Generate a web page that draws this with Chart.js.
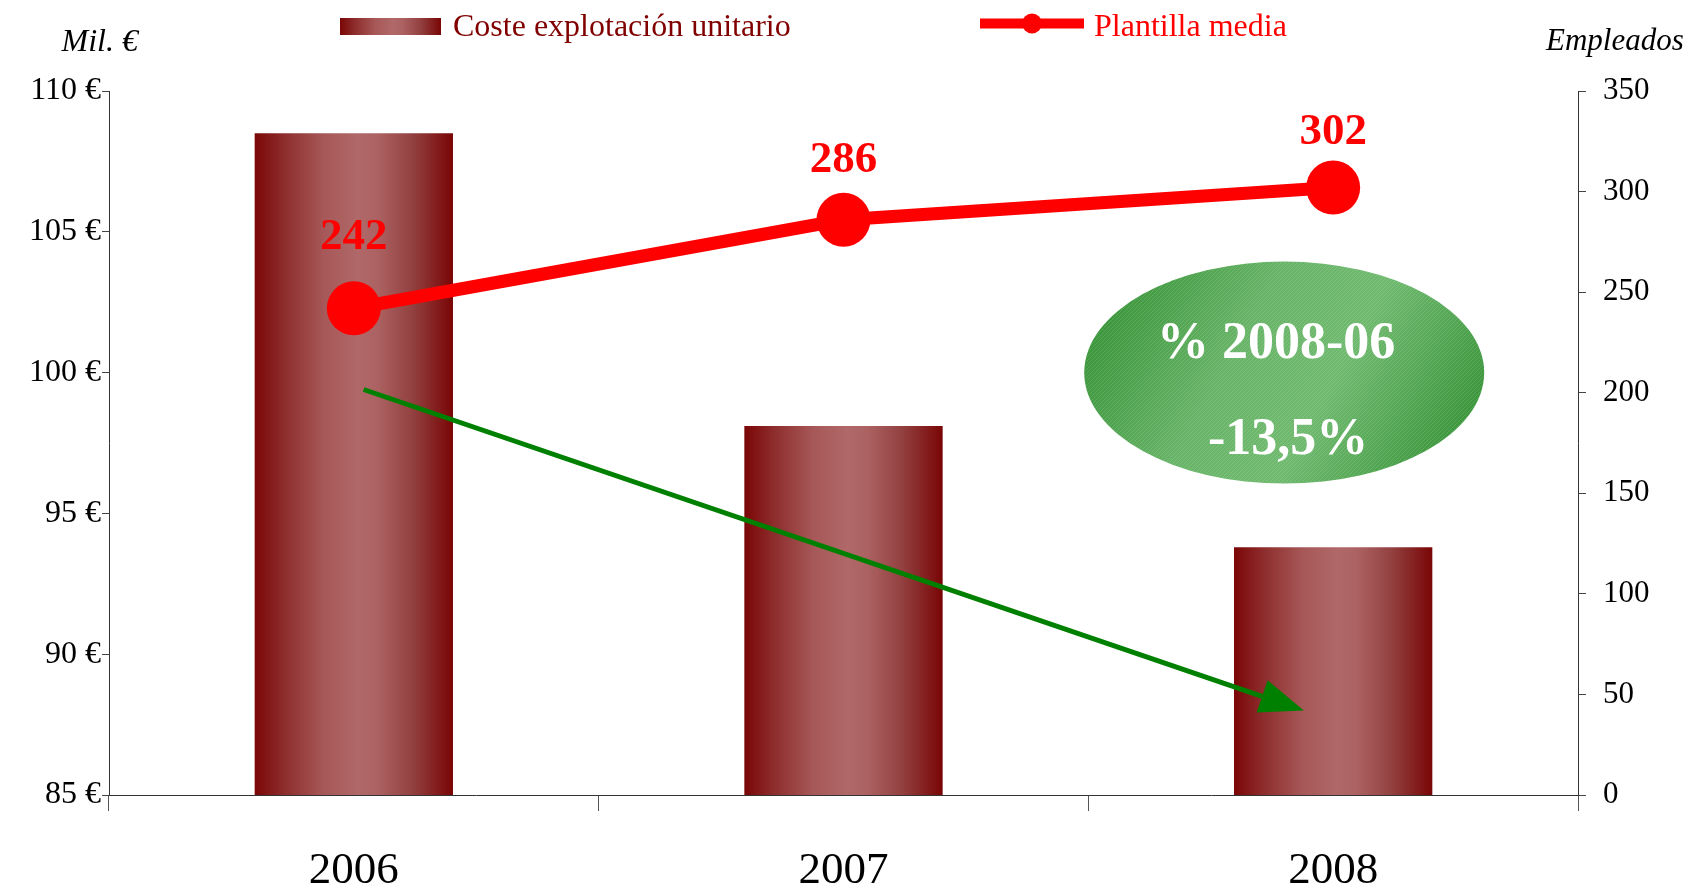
<!DOCTYPE html>
<html lang="es">
<head>
<meta charset="utf-8">
<title>Coste explotación unitario y plantilla media</title>
<script src="https://cdn.jsdelivr.net/npm/chart.js@4.4.1/dist/chart.umd.min.js"></script>
<style>
  html, body { margin: 0; padding: 0; background: #fff; }
  #wrap { width: 1691px; height: 889px; position: relative; }
</style>
</head>
<body>
<div id="wrap"><canvas id="grafico"></canvas></div>
<script>
const years = ['2006', '2007', '2008'];
const costeUnitario = [108.5, 98.1, 93.8];   // miles de euros
const plantillaMedia = [242, 286, 302];      // empleados
const costeTicks = [85, 90, 95, 100, 105, 110];
const empleadosTicks = [0, 50, 100, 150, 200, 250, 300, 350];
const variacion = ['% 2008-06', '-13,5%'];

const SERIF = "'Liberation Serif', 'Times New Roman', serif";
const BAR_W = 0.405;

Chart.defaults.font.family = SERIF;
Chart.defaults.color = '#000';

function barGradient(ctx, x0, x1) {
  const g = ctx.createLinearGradient(x0, 0, x1, 0);
  g.addColorStop(0, '#7b0606');
  g.addColorStop(0.15, '#8e2d2d');
  g.addColorStop(0.35, '#a75858');
  g.addColorStop(0.52, '#b06868');
  g.addColorStop(0.62, '#ac6262');
  g.addColorStop(0.8, '#923f3f');
  g.addColorStop(0.93, '#821a1a');
  g.addColorStop(1, '#7a0505');
  return g;
}

function trama(ctx) {
  const c = document.createElement('canvas');
  c.width = c.height = 4;
  const t = c.getContext('2d');
  t.strokeStyle = 'rgba(255,255,255,0.12)';
  t.lineWidth = 1;
  t.beginPath(); t.moveTo(0, 4); t.lineTo(4, 0); t.stroke();
  return ctx.createPattern(c, 'repeat');
}

const dibujos = {
  id: 'dibujos',
  afterDatasetDraw(chart, args) {
    if (args.meta.type !== 'bar') return;
    const {ctx, scales: {x, y, y1}} = chart;

    // ellipse with the variation
    const ex = x.getPixelForValue(1.9), ey = y1.getPixelForValue(210);
    const rx = 200, ry = 111;
    ctx.save();
    const g = ctx.createLinearGradient(ex - rx, ey - ry, ex + rx, ey + ry);
    g.addColorStop(0.1, '#3d973d');
    g.addColorStop(0.38, '#68b468');
    g.addColorStop(0.6, '#70ba70');
    g.addColorStop(0.9, '#3d973d');
    ctx.beginPath();
    ctx.ellipse(ex, ey, rx, ry, 0, 0, Math.PI * 2);
    ctx.fillStyle = g;
    ctx.fill();
    ctx.fillStyle = trama(ctx);
    ctx.fill();
    ctx.fillStyle = '#fff';
    ctx.textAlign = 'center';
    ctx.textBaseline = 'alphabetic';
    ctx.font = `bold 52px ${SERIF}`;
    ctx.fillText(variacion[0], ex - 8, ey - 15);
    ctx.fillText(variacion[1], ex + 4, ey + 81);
    ctx.restore();

    // green arrow
    const ax0 = x.getPixelForValue(0.02), ay0 = y.getPixelForValue(99.4);
    const ax1 = x.getPixelForValue(1.94), ay1 = y.getPixelForValue(88.0);
    const ang = Math.atan2(ay1 - ay0, ax1 - ax0);
    const hl = 44, hw = 17;
    const bx = ax1 - hl * Math.cos(ang), by = ay1 - hl * Math.sin(ang);
    ctx.save();
    ctx.strokeStyle = '#008000';
    ctx.fillStyle = '#008000';
    ctx.lineWidth = 5;
    ctx.beginPath(); ctx.moveTo(ax0, ay0); ctx.lineTo(bx, by); ctx.stroke();
    ctx.beginPath();
    ctx.moveTo(ax1, ay1);
    ctx.lineTo(bx - hw * Math.sin(ang), by + hw * Math.cos(ang));
    ctx.lineTo(bx + hw * Math.sin(ang), by - hw * Math.cos(ang));
    ctx.closePath();
    ctx.fill();
    ctx.restore();
  },
  afterDatasetsDraw(chart) {
    const {ctx, chartArea} = chart;
    const meta = chart.getDatasetMeta(1);
    ctx.save();
    ctx.font = `bold 45px ${SERIF}`;
    ctx.fillStyle = '#ff0000';
    ctx.textAlign = 'center';
    ctx.textBaseline = 'alphabetic';
    meta.data.forEach((pt, i) => {
      const lift = 46 + 0.13 * (pt.y - chartArea.top);
      ctx.fillText(String(plantillaMedia[i]), pt.x, pt.y - lift + 15);
    });
    ctx.restore();
  },
  afterDraw(chart) {
    const {ctx, chartArea} = chart;
    ctx.save();
    ctx.textBaseline = 'alphabetic';

    // axis titles
    ctx.fillStyle = '#000';
    ctx.font = `italic 32px ${SERIF}`;
    ctx.textAlign = 'right';
    ctx.fillText('Mil. €', chartArea.left + 29, 51);
    ctx.font = `italic 31px ${SERIF}`;
    ctx.textAlign = 'left';
    ctx.fillText('Empleados', chartArea.right - 32, 50);

    // legend
    ctx.font = `32px ${SERIF}`;
    ctx.fillStyle = barGradient(ctx, 340, 441);
    ctx.fillRect(340, 18, 101, 17);
    ctx.fillStyle = '#800000';
    ctx.fillText(chart.data.datasets[0].label, 453, 36);

    ctx.strokeStyle = '#ff0000';
    ctx.fillStyle = '#ff0000';
    ctx.lineWidth = 10;
    ctx.beginPath(); ctx.moveTo(980, 23.5); ctx.lineTo(1084, 23.5); ctx.stroke();
    ctx.beginPath(); ctx.arc(1032, 23.5, 10, 0, Math.PI * 2); ctx.fill();
    ctx.fillText(chart.data.datasets[1].label, 1094, 36);
    ctx.restore();
  }
};

new Chart(document.getElementById('grafico'), {
  data: {
    labels: years,
    datasets: [{
      type: 'bar',
      label: 'Coste explotación unitario',
      data: costeUnitario,
      yAxisID: 'y',
      order: 2,
      categoryPercentage: 1,
      barPercentage: BAR_W,
      borderWidth: 0,
      backgroundColor: (c) => {
        const xs = c.chart.scales.x;
        const fallback = '#9a4a4a';
        if (!xs || c.dataIndex === undefined) return fallback;
        const cx = xs.getPixelForValue(c.dataIndex);
        const half = xs.width / years.length * BAR_W / 2;
        if (!Number.isFinite(cx) || !Number.isFinite(half)) return fallback;
        return barGradient(c.chart.ctx, cx - half, cx + half);
      }
    }, {
      type: 'line',
      label: 'Plantilla media',
      data: plantillaMedia,
      yAxisID: 'y1',
      order: 1,
      borderColor: '#ff0000',
      backgroundColor: '#ff0000',
      borderWidth: 13,
      tension: 0,
      pointRadius: 27,
      pointHoverRadius: 27,
      pointBackgroundColor: '#ff0000',
      pointBorderWidth: 0
    }]
  },
  options: {
    responsive: true,
    maintainAspectRatio: false,
    animation: false,
    layout: { padding: { top: 91, left: 0, right: 0, bottom: 0 } },
    plugins: {
      legend: { display: false },
      tooltip: { enabled: false }
    },
    scales: {
      x: {
        offset: true,
        grid: { offset: true, drawOnChartArea: false, tickLength: 16, color: '#555' },
        border: { color: '#333', width: 1 },
        ticks: { font: { size: 45 }, padding: 33, color: '#000' },
        afterFit: (s) => { s.height = 94; }
      },
      y: {
        position: 'left',
        min: costeTicks[0],
        max: costeTicks[costeTicks.length - 1],
        afterBuildTicks: (s) => { s.ticks = costeTicks.map(v => ({ value: v })); },
        grid: { drawOnChartArea: false, tickLength: 7, color: '#444' },
        border: { color: '#333', width: 1 },
        ticks: { font: { size: 32 }, padding: 1, color: '#000', callback: (v) => v + ' €' },
        afterFit: (s) => { s.width = 109; }
      },
      y1: {
        position: 'right',
        min: empleadosTicks[0],
        max: empleadosTicks[empleadosTicks.length - 1],
        afterBuildTicks: (s) => { s.ticks = empleadosTicks.map(v => ({ value: v })); },
        grid: { drawOnChartArea: false, tickLength: 8, color: '#444' },
        border: { color: '#333', width: 1 },
        ticks: { font: { size: 31 }, padding: 17, color: '#000' },
        afterFit: (s) => { s.width = 113; }
      }
    }
  },
  plugins: [dibujos]
});
</script>
</body>
</html>
